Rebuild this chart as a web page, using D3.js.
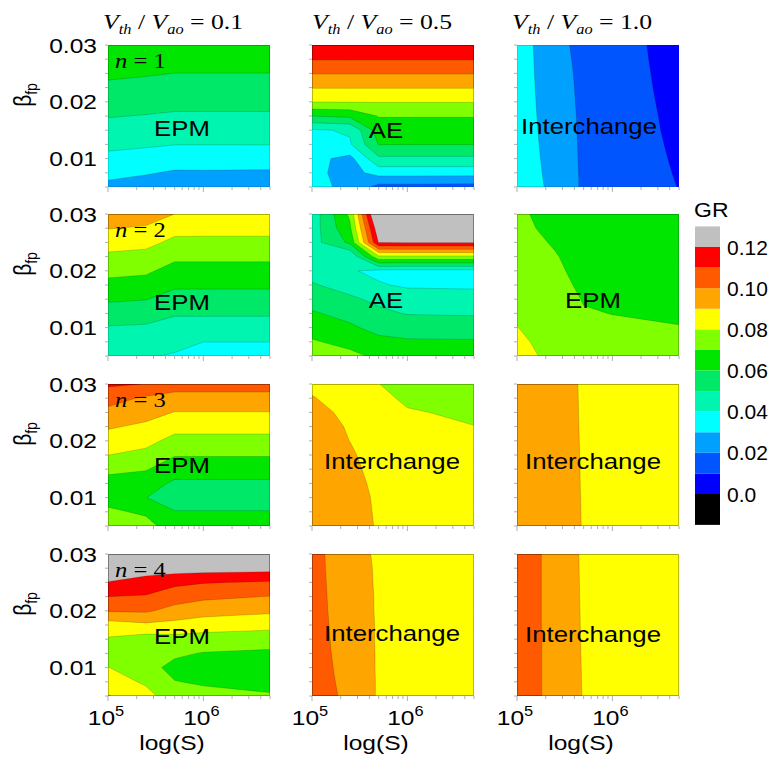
<!DOCTYPE html>
<html><head><meta charset="utf-8">
<script src="https://cdn.jsdelivr.net/npm/d3@7"></script>
<style>html,body{margin:0;padding:0;background:#fff;} svg{display:block;}</style>
</head><body>
<svg id="chart" width="780" height="761"></svg>
<script>
// ---------------- data ----------------
// grid nodes: S (x axis, log) and beta_fp (y axis, listed top -> bottom)
const S_NODES = [1e5, 2.5e5, 5e5, 1e6, 5e6];
const BETA_NODES = [0.03, 0.0275, 0.025, 0.0225, 0.02, 0.0175, 0.015, 0.0125, 0.01, 0.0075, 0.005];
const GR_LEVELS = [0, 0.01, 0.02, 0.03, 0.04, 0.05, 0.06, 0.07, 0.08, 0.09, 0.10, 0.11, 0.12];
const LEVEL_COLORS = ["#000000", "#0000ff", "#0055ff", "#00a0ff", "#00ffff", "#00f5b0", "#00e868",
                      "#00e600", "#80ff00", "#ffff00", "#ffa500", "#ff5a00", "#ff0000", "#c0c0c0"];
const LEGEND_TICKS = [0.12, 0.10, 0.08, 0.06, 0.04, 0.02, 0.0];
const LEGEND_TICK_LABELS = ["0.12", "0.10", "0.08", "0.06", "0.04", "0.02", "0.0"];
const VTH_RATIOS = ["0.1", "0.5", "1.0"];
const N_VALUES = ["1", "2", "3", "4"];
const MODE_LABELS = [["EPM", "AE", "Interchange"], ["EPM", "AE", "EPM"],
                     ["EPM", "Interchange", "Interchange"], ["EPM", "Interchange", "Interchange"]];
const Y_TICKS = [0.01, 0.02, 0.03];
const Y_TICK_LABELS = ["0.01", "0.02", "0.03"];
const X_TICKS = [1e5, 1e6];
const X_TICK_EXP = ["5", "6"];

// GR values, rows = BETA_NODES (0.03 at top), columns = S_NODES
const gr_n1_v01 = [
  [.0694,.0683,.0671,.0671,.0671],
  [.0656,.0646,.0635,.0635,.0635],
  [.0618,.0608,.0599,.0599,.0599],
  [.0580,.0571,.0562,.0562,.0562],
  [.0542,.0534,.0526,.0526,.0526],
  [.0505,.0496,.0488,.0488,.0488],
  [.0463,.0454,.0445,.0445,.0445],
  [.0422,.0412,.0402,.0402,.0402],
  [.0376,.0361,.0345,.0345,.0346],
  [.0326,.0308,.0289,.0290,.0287],
  [.0276,.0254,.0232,.0233,.0228]];
const gr_n1_v05 = [
  [.1190,.1190,.1190,.1190,.1190],
  [.1106,.1106,.1106,.1106,.1106],
  [.1004,.1004,.1004,.1004,.1004],
  [.0905,.0905,.0905,.0905,.0905],
  [.0804,.0804,.0804,.0804,.0804],
  [.0601,.0620,.0705,.0705,.0705],
  [.0388,.0410,.0652,.0652,.0652],
  [.0370,.0390,.0602,.0602,.0602],
  [.0330,.0270,.0481,.0481,.0481],
  [.0328,.0260,.0339,.0339,.0339],
  [.0325,.0279,.0165,.0165,.0158]];
const gr_n1_v10 = [
  [.0360,.0220,.0181,.0155,.0049],
  [.0359,.0226,.0181,.0155,.0054],
  [.0358,.0232,.0182,.0156,.0059],
  [.0357,.0238,.0182,.0156,.0064],
  [.0356,.0244,.0182,.0157,.0069],
  [.0355,.0250,.0183,.0158,.0074],
  [.0354,.0256,.0183,.0158,.0078],
  [.0353,.0262,.0183,.0159,.0083],
  [.0352,.0268,.0183,.0159,.0088],
  [.0351,.0274,.0184,.0160,.0093],
  [.0350,.0280,.0184,.0160,.0098]];
const gr_n2_v01 = [
  [.0966,.0949,.0900,.0880,.0880],
  [.0904,.0889,.0832,.0830,.0830],
  [.0841,.0828,.0777,.0777,.0777],
  [.0781,.0769,.0720,.0720,.0720],
  [.0728,.0716,.0666,.0666,.0666],
  [.0672,.0661,.0615,.0615,.0615],
  [.0613,.0603,.0563,.0563,.0563],
  [.0554,.0545,.0511,.0511,.0511],
  [.0493,.0486,.0456,.0456,.0456],
  [.0445,.0436,.0412,.0401,.0401],
  [.0410,.0404,.0396,.0345,.0345]];
const gr_n2_v05 = [
  [.0440,.0720,.1390,.1500,.1500],
  [.0450,.0680,.1280,.1350,.1350],
  [.0460,.0620,.1205,.1210,.1210],
  [.0465,.0405,.0780,.0780,.0780],
  [.0470,.0410,.0375,.0370,.0370],
  [.0508,.0465,.0410,.0385,.0380],
  [.0560,.0515,.0480,.0455,.0450],
  [.0610,.0570,.0520,.0495,.0490],
  [.0660,.0615,.0570,.0555,.0550],
  [.0710,.0670,.0625,.0612,.0610],
  [.0760,.0725,.0680,.0660,.0650]];
const gr_n2_v10 = [
  [.0715,.0670,.0640,.0630,.0620],
  [.0720,.0680,.0650,.0640,.0630],
  [.0730,.0693,.0660,.0650,.0640],
  [.0740,.0705,.0670,.0655,.0650],
  [.0750,.0715,.0675,.0660,.0660],
  [.0760,.0725,.0685,.0670,.0670],
  [.0770,.0735,.0696,.0685,.0680],
  [.0785,.0745,.0705,.0699,.0692],
  [.0802,.0755,.0715,.0710,.0702],
  [.0820,.0762,.0725,.0720,.0710],
  [.0840,.0769,.0735,.0730,.0720]];
const gr_n3_v01 = [
  [.1115,.1098,.1040,.1040,.1040],
  [.1042,.0984,.0969,.0969,.0969],
  [.0973,.0934,.0897,.0897,.0897],
  [.0911,.0882,.0833,.0833,.0833],
  [.0855,.0830,.0770,.0770,.0770],
  [.0801,.0772,.0707,.0707,.0707],
  [.0723,.0707,.0639,.0639,.0639],
  [.0665,.0640,.0585,.0585,.0585],
  [.0655,.0601,.0565,.0565,.0565],
  [.0722,.0680,.0603,.0603,.0603],
  [.0760,.0745,.0630,.0630,.0630]];
const gr_n3_v05 = [
  [.0880,.0850,.0801,.0775,.0760],
  [.0905,.0865,.0815,.0790,.0775],
  [.0920,.0885,.0830,.0805,.0790],
  [.0935,.0893,.0840,.0815,.0801],
  [.0950,.0899,.0850,.0825,.0810],
  [.0960,.0914,.0855,.0830,.0815],
  [.0970,.0929,.0860,.0835,.0820],
  [.0975,.0950,.0865,.0840,.0825],
  [.0980,.0975,.0870,.0845,.0830],
  [.0985,.0985,.0875,.0850,.0835],
  [.0990,.0995,.0880,.0855,.0840]];
const gr_n3_v10 = [
  [.0960,.0930,.08925,.0870,.0850],
  [.0960,.0930,.08930,.0870,.0850],
  [.0961,.0930,.08935,.0871,.0851],
  [.0961,.0930,.08940,.0871,.0851],
  [.0962,.0931,.08945,.0872,.0852],
  [.0962,.0931,.08950,.0872,.0852],
  [.0962,.0931,.08955,.0872,.0852],
  [.0963,.0931,.08958,.0873,.0853],
  [.0963,.0932,.08962,.0873,.0853],
  [.0964,.0932,.08966,.0874,.0854],
  [.0964,.0932,.08970,.0874,.0854]];
const gr_n4_v01 = [
  [.1390,.1350,.1350,.1350,.1350],
  [.1290,.1241,.1249,.1243,.1237],
  [.1195,.1166,.1123,.1106,.1089],
  [.1101,.1091,.1046,.1020,.0997],
  [.1009,.1014,.0967,.0940,.0918],
  [.0855,.0880,.0868,.0848,.0828],
  [.0790,.0755,.0766,.0758,.0751],
  [.0755,.0705,.0715,.0695,.0680],
  [.0803,.0730,.0675,.0668,.0660],
  [.0850,.0785,.0703,.0690,.0675],
  [.0905,.0835,.0740,.0725,.0708]];
const gr_n4_v05 = [
  [.1045,.0913,.0895,.0870,.0850],
  [.1045,.0918,.0895,.0870,.0850],
  [.1046,.0924,.0894,.0870,.0850],
  [.1046,.0930,.0894,.0871,.0851],
  [.1046,.0936,.0893,.0871,.0851],
  [.1047,.0942,.0893,.0871,.0851],
  [.1047,.0948,.0892,.0872,.0852],
  [.1047,.0955,.0892,.0872,.0852],
  [.1048,.0962,.0891,.0872,.0852],
  [.1048,.0970,.0891,.0873,.0853],
  [.1048,.0978,.0890,.0873,.0853]];
const gr_n4_v10 = [
  [.1045,.0975,.0885,.0870,.0855],
  [.1045,.0975,.0886,.0870,.0855],
  [.1045,.0975,.0887,.0871,.0855],
  [.1045,.0975,.0888,.0871,.0855],
  [.1045,.0975,.0889,.0872,.0855],
  [.1045,.0975,.0890,.0872,.0855],
  [.1045,.0976,.0891,.0873,.0855],
  [.1045,.0976,.0892,.0873,.0855],
  [.1045,.0976,.0893,.0874,.0855],
  [.1045,.0976,.0894,.0874,.0855],
  [.1045,.0976,.0895,.0875,.0855]];

const GRIDS = [
  [gr_n1_v01, gr_n1_v05, gr_n1_v10],
  [gr_n2_v01, gr_n2_v05, gr_n2_v10],
  [gr_n3_v01, gr_n3_v05, gr_n3_v10],
  [gr_n4_v01, gr_n4_v05, gr_n4_v10]];

// ---------------- layout ----------------
const svg = d3.select('#chart');
const SANS = '"Liberation Sans", Arial, Helvetica, sans-serif';
const SERIF = '"Liberation Serif", "Times New Roman", Times, serif';
const SX = 1.17;                        // horizontal text stretch of the original
const COL_X = [108, 312, 517], ROW_Y = [45, 214, 384, 554];
const PW = 162, PH = 142;
const LABEL_POS = [[[74, 83], [74, 85], [72, 81]], [[74, 88], [74, 86], [76, 86]],
                   [[74, 81], [80, 77], [76, 77]], [[74, 82], [80, 79], [76, 80]]];

const logNodes = S_NODES.map(Math.log10);
function lerpNodes(arr, f) {
  const n = arr.length - 1;
  f = Math.max(0, Math.min(n, f));
  const i = Math.min(n - 1, Math.floor(f));
  const t = f - i;
  return arr[i] + (arr[i + 1] - arr[i]) * t;
}

const defs = svg.append('defs');

GRIDS.forEach((rowGrids, r) => rowGrids.forEach((grid, c) => {
  const L = COL_X[c], T = ROW_Y[r];
  const x = d3.scaleLog().domain([1e5, 5e6]).range([L, L + PW]);
  const y = d3.scaleLinear().domain([0.005, 0.03]).range([T + PH, T]);
  const nx = S_NODES.length, ny = BETA_NODES.length;
  const values = grid.flat();
  const contours = d3.contours().size([nx, ny]).thresholds(GR_LEVELS)(values);

  const proj = (gx, gy) => {
    const s = Math.pow(10, lerpNodes(logNodes, gx - 0.5));
    const b = lerpNodes(BETA_NODES, gy - 0.5);
    return [x(s), y(b)];
  };
  const pathOf = (geom) => geom.coordinates.map(poly => poly.map(ring =>
      'M' + ring.map(p => proj(p[0], p[1]).map(v => v.toFixed(2)).join(',')).join('L') + 'Z').join('')).join('');

  const g = svg.append('g');
  g.append('rect').attr('x', L).attr('y', T).attr('width', PW).attr('height', PH)
    .attr('fill', LEVEL_COLORS[0]);
  const ds = contours.map(pathOf);
  g.selectAll('path.band').data(ds).join('path').attr('class', 'band')
    .attr('d', d => d).attr('fill', (d, i) => LEVEL_COLORS[i + 1]);

  const cid = `clip-${r}-${c}`;
  defs.append('clipPath').attr('id', cid).append('rect')
    .attr('x', L + 0.6).attr('y', T + 0.6).attr('width', PW - 1.2).attr('height', PH - 1.2);
  g.append('g').attr('clip-path', `url(#${cid})`).selectAll('path').data(ds).join('path')
    .attr('d', d => d).attr('fill', 'none').attr('stroke', 'rgba(0,0,0,0.28)').attr('stroke-width', 0.6);

  // minor ticks
  const yMinor = d3.range(0.005, 0.03001, 0.0025);
  g.selectAll('line.yt').data(yMinor).join('line').attr('class', 'yt')
    .attr('x1', L - 3).attr('x2', L).attr('y1', d => y(d)).attr('y2', d => y(d))
    .attr('stroke', '#9a9a9a').attr('stroke-width', 0.8);
  const xMinor = [1e5,2e5,3e5,4e5,5e5,6e5,7e5,8e5,9e5,1e6,2e6,3e6,4e6,5e6];
  g.selectAll('line.xt').data(xMinor).join('line').attr('class', 'xt')
    .attr('x1', d => x(d)).attr('x2', d => x(d)).attr('y1', T + PH)
    .attr('y2', d => T + PH + (d === 1e5 || d === 1e6 ? 5 : 3))
    .attr('stroke', '#9a9a9a').attr('stroke-width', 0.8);

  // mode label
  const lp = LABEL_POS[r][c];
  g.append('text').attr('transform', `translate(${L + lp[0]},${T + lp[1]}) scale(${SX},1)`)
    .attr('text-anchor', 'middle').attr('dy', '0.36em')
    .style('font-family', SANS).style('font-size', '22px').attr('fill', '#000')
    .text(MODE_LABELS[r][c]);

  if (c === 0) {
    // n label
    const nt = g.append('text').attr('transform', `translate(${L + 7},${T + 23}) scale(${SX},1)`)
      .style('font-family', SERIF).style('font-size', '21px');
    nt.append('tspan').style('font-style', 'italic').text('n');
    nt.append('tspan').text(' = ' + N_VALUES[r]);
    // y tick labels
    g.selectAll('text.yl').data(Y_TICKS).join('text').attr('class', 'yl')
      .attr('transform', d => `translate(${L - 11},${y(d)}) scale(${SX},1)`)
      .attr('text-anchor', 'end').attr('dy', '0.36em')
      .style('font-family', SANS).style('font-size', '21px')
      .text((d, i) => Y_TICK_LABELS[i]);
    // beta_fp
    const bt = g.append('text').attr('transform', `translate(31,${T + 50}) rotate(-90) scale(1,${SX})`)
      .attr('text-anchor', 'middle').style('font-family', SANS).style('font-size', '21px');
    bt.append('tspan').text('β');
    bt.append('tspan').attr('dy', 5).style('font-size', '14px').text('fp');
  }
  if (r === 0) {
    const tt = svg.append('text').attr('transform', `translate(${L - (c === 1 ? 0 : 5)},29) scale(${SX},1)`)
      .style('font-family', SERIF).style('font-size', '22px');
    tt.append('tspan').style('font-style', 'italic').text('V');
    tt.append('tspan').style('font-style', 'italic').style('font-size', '14px').attr('dy', 5).text('th');
    tt.append('tspan').attr('dy', -5).text(' / ');
    tt.append('tspan').style('font-style', 'italic').text('V');
    tt.append('tspan').style('font-style', 'italic').style('font-size', '14px').attr('dy', 5).text('ao');
    tt.append('tspan').attr('dy', -5).text(' = ' + VTH_RATIOS[c]);
  }
  if (r === 3) {
    X_TICKS.forEach((v, i) => {
      const t = g.append('text').attr('transform', `translate(${x(v) - 2},725) scale(${SX},1)`)
        .attr('text-anchor', 'middle').style('font-family', SANS).style('font-size', '21px');
      t.append('tspan').text('10');
      t.append('tspan').attr('dy', -9).style('font-size', '14px').text(X_TICK_EXP[i]);
    });
    g.append('text').attr('transform', `translate(${L + 64},750) scale(${SX},1)`)
      .attr('text-anchor', 'middle').style('font-family', SANS).style('font-size', '21px')
      .text('log(S)');
  }
}));

// ---------------- legend ----------------
const ly = d3.scaleLinear().domain([0, 0.12]).range([494, 247]);
const bandEdges = [-0.015].concat(GR_LEVELS).concat([0.13]);
const lg = svg.append('g');
lg.selectAll('rect').data(LEVEL_COLORS).join('rect')
  .attr('x', 695).attr('width', 25)
  .attr('y', (d, i) => ly(bandEdges[i + 1]))
  .attr('height', (d, i) => ly(bandEdges[i]) - ly(bandEdges[i + 1]))
  .attr('fill', d => d);
lg.selectAll('text.lt').data(LEGEND_TICKS).join('text').attr('class', 'lt')
  .attr('x', 727).attr('y', d => ly(d)).attr('dy', '0.36em')
  .style('font-family', SANS).style('font-size', '21px')
  .text((d, i) => LEGEND_TICK_LABELS[i]);
lg.append('text').attr('transform', `translate(694,217) scale(1.15,1)`)
  .style('font-family', SANS).style('font-size', '20px').text('GR');
</script>
</body></html>
